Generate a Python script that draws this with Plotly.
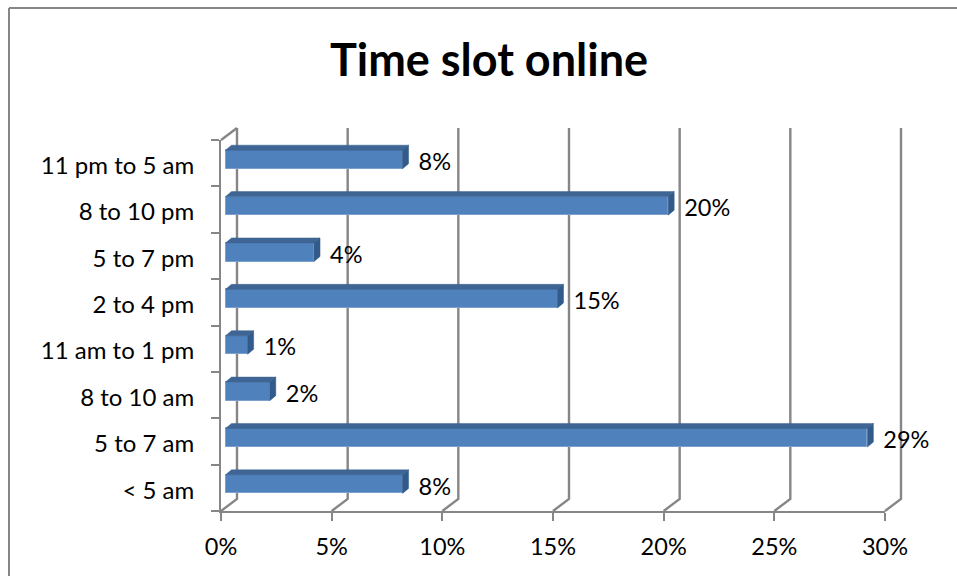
import plotly.graph_objects as go

categories = ["< 5 am", "5 to 7 am", "8 to 10 am", "11 am to 1 pm", "2 to 4 pm", "5 to 7 pm", "8 to 10 pm", "11 pm to 5 am"]
values = [8, 29, 2, 1, 15, 4, 20, 8]
x_ticks = [0, 5, 10, 15, 20, 25, 30]
x_labels = ["0%", "5%", "10%", "15%", "20%", "25%", "30%"]

W, H = 957, 576
L, R, T, B = 221, 885, 140, 511          # front axes box
PL, PR, PT, PB = 210, 912, 120, 515      # whole drawing area
pw, ph = R - L, B - T
ux = pw / 30.0
uy = ph / 8.0
AXIS = "#868686"
FONT = "Lato"

wall_dx, wall_dy = 16 / ux, 12 / uy      # depth of the back wall
bar_x0 = 4.5 / ux                        # gap between the axis and the bars
bar_dx, bar_dy = 6 / ux, 5 / uy          # depth of the bars
bar_center, bar_h = 0.58, 0.40

n = len(categories)
slots = list(range(n))

# back wall lines and the floor/wall connectors
gx, gy = [], []
for t in x_ticks:
    gx += [t, t + wall_dx, t + wall_dx, None]
    gy += [0, wall_dy, n + wall_dy, None]
gx += [0, wall_dx, None]
gy += [n, n + wall_dy, None]

# bar depth faces
top_x, top_y, side_x, side_y = [], [], [], []
for i, v in zip(slots, values):
    lo = i + bar_center - bar_h / 2
    hi = i + bar_center + bar_h / 2
    x1 = bar_x0 + v
    top_x += [bar_x0, bar_x0 + bar_dx, x1 + bar_dx, x1, bar_x0, None]
    top_y += [hi, hi + bar_dy, hi + bar_dy, hi, hi, None]
    side_x += [x1, x1 + bar_dx, x1 + bar_dx, x1, x1, None]
    side_y += [lo, lo + bar_dy, hi + bar_dy, hi, lo, None]

fig = go.Figure()
# main subplot only carries the axes; an invisible trace keeps it alive
fig.add_trace(go.Scatter(x=[0, 30], y=[0, n], mode="none", hoverinfo="skip", showlegend=False))
fig.add_trace(go.Scatter(x=gx, y=gy, mode="lines", line=dict(color=AXIS, width=2.4),
                         xaxis="x2", yaxis="y2", hoverinfo="skip", showlegend=False))
fig.add_trace(go.Scatter(x=top_x, y=top_y, mode="lines", fill="toself", fillcolor="#3E6593",
                         line=dict(color="#3E6593", width=0.5), xaxis="x3", yaxis="y3",
                         hoverinfo="skip", showlegend=False))
fig.add_trace(go.Scatter(x=side_x, y=side_y, mode="lines", fill="toself", fillcolor="#325A8A",
                         line=dict(color="#325A8A", width=0.5), xaxis="x3", yaxis="y3",
                         hoverinfo="skip", showlegend=False))
fig.add_trace(go.Bar(x=values, y=[i + bar_center for i in slots], base=bar_x0, width=bar_h,
                     orientation="h", marker=dict(color="#4F81BD", line=dict(color="#7BA0CC", width=1)),
                     xaxis="x3", yaxis="y3", showlegend=False))
fig.add_trace(go.Scatter(x=[bar_x0 + v + 16 / ux for v in values],
                         y=[i + 0.48 for i in slots],
                         mode="text", text=[f"{v}%" for v in values], textposition="middle right",
                         textfont=dict(family=FONT, size=23.5, color="#000000"),
                         xaxis="x3", yaxis="y3", cliponaxis=False, hoverinfo="skip", showlegend=False))

frame = dict(type="line", xref="paper", yref="paper", line=dict(color=AXIS, width=2))
px = lambda p: (p - PL) / (PR - PL)
py = lambda p: (PB - p) / (PB - PT)

wide_x = [(PL - L) / ux, (PR - L) / ux]
wide_y = [(B - PB) / uy, (B - PT) / uy]

fig.update_layout(
    width=W, height=H, autosize=False,
    margin=dict(l=PL, r=W - PR, t=PT, b=H - PB, pad=0),
    paper_bgcolor="white", plot_bgcolor="rgba(0,0,0,0)",
    bargap=0,
    title=dict(text="<b>Time slot online</b>", x=489 / W, xanchor="center", y=1 - 60 / H, yanchor="middle",
               font=dict(family=FONT, size=45, color="#000000")),
    xaxis=dict(domain=[px(L), px(R)], anchor="y", range=[0, 30], tickvals=x_ticks, ticktext=x_labels,
               ticks="outside", ticklen=8, tickwidth=2,
               tickcolor=AXIS, showline=True, linecolor=AXIS, linewidth=2, showgrid=False, zeroline=False,
               ticklabelstandoff=6, tickfont=dict(family=FONT, size=23.5, color="#000000")),
    yaxis=dict(domain=[py(B), py(T)], anchor="x", range=[0, n], tickvals=[i + 0.45 for i in slots], ticktext=categories, ticks="",
               minor=dict(tickvals=list(range(n + 1)), ticks="outside", ticklen=8, tickwidth=2, tickcolor=AXIS),
               showline=True, linecolor=AXIS, linewidth=2, showgrid=False, zeroline=False,
               ticklabelstandoff=20, tickfont=dict(family=FONT, size=24, color="#000000")),
    xaxis2=dict(domain=[0, 1], anchor="y2", range=wide_x, visible=False),
    yaxis2=dict(domain=[0, 1], anchor="x2", range=wide_y, visible=False),
    xaxis3=dict(anchor="y3", overlaying="x2", range=wide_x, visible=False),
    yaxis3=dict(anchor="x3", overlaying="y2", range=wide_y, visible=False),
    shapes=[
        dict(frame, x0=px(9), x1=px(W), y0=py(8), y1=py(8)),
        dict(frame, x0=px(9), x1=px(9), y0=py(8), y1=py(H)),
    ],
)
fig.write_html("out.html", config={"displayModeBar": False},
               post_script="document.body.style.margin='0';document.body.style.overflow='hidden';")
